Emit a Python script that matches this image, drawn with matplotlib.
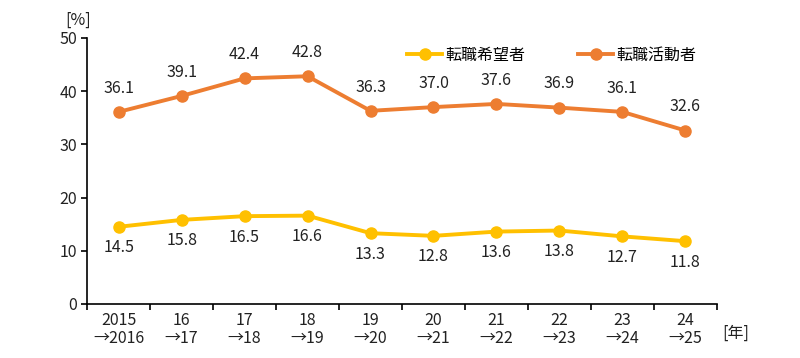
import numpy as np
import matplotlib
matplotlib.use("Agg")
import matplotlib.pyplot as plt

plt.rcParams['font.family'] = ['Noto Sans CJK JP', 'DejaVu Sans']

categories = ["2015\n→2016", "16\n→17", "17\n→18", "18\n→19", "19\n→20",
              "20\n→21", "21\n→22", "22\n→23", "23\n→24", "24\n→25"]
kibou = [14.5, 15.8, 16.5, 16.6, 13.3, 12.8, 13.6, 13.8, 12.7, 11.8]
katsudou = [36.1, 39.1, 42.4, 42.8, 36.3, 37.0, 37.6, 36.9, 36.1, 32.6]

yellow = '#FFC000'
orange = '#ED7D31'

fig = plt.figure(figsize=(8, 3.58), dpi=100)
ax = fig.add_axes([0.109, 0.151, 0.787, 0.743])

x = np.arange(len(categories))
ax.plot(x, kibou, color=yellow, lw=2.8, marker='o', ms=8, label='転職希望者')
ax.plot(x, katsudou, color=orange, lw=2.8, marker='o', ms=8, label='転職活動者')

fs = 11.5
for xi, v in zip(x, kibou):
    ax.annotate(f"{v:.1f}", (xi, v), xytext=(0, -9), textcoords='offset points',
                ha='center', va='top', fontsize=fs, color='#222222')
for xi, v in zip(x, katsudou):
    ax.annotate(f"{v:.1f}", (xi, v), xytext=(0, 11), textcoords='offset points',
                ha='center', va='bottom', fontsize=fs, color='#222222')

ax.set_xlim(-0.5, len(categories) - 0.5)
ax.set_ylim(0, 50)
ax.set_yticks([0, 10, 20, 30, 40, 50])
ax.set_xticks(np.arange(-0.5, len(categories), 1.0))
ax.set_xticklabels([])
ax.set_xticks(x, minor=True)
ax.set_xticklabels(categories, minor=True, fontsize=fs, color='#222222', linespacing=1.05)
ax.tick_params(axis='x', which='minor', length=0, pad=6)
ax.tick_params(axis='x', which='major', length=4, width=1.2, direction='out')
ax.tick_params(axis='y', length=4, width=1.2, labelsize=fs, labelcolor='#222222')

for s in ['top', 'right']:
    ax.spines[s].set_visible(False)
for s in ['left', 'bottom']:
    ax.spines[s].set_linewidth(1.2)
    ax.spines[s].set_color('black')

fig.text(0.098, 0.92, '[%]', fontsize=fs, color='#222222', ha='center', va='bottom')
fig.text(0.903, 0.07, '[年]', fontsize=fs, color='#222222', ha='left', va='center')

ax.legend(loc='upper left', bbox_to_anchor=(0.485, 1.02), ncol=2, frameon=False,
          fontsize=fs, handlelength=2.2, columnspacing=3.3, handletextpad=0.2)

fig.savefig('out.png', dpi=100)
